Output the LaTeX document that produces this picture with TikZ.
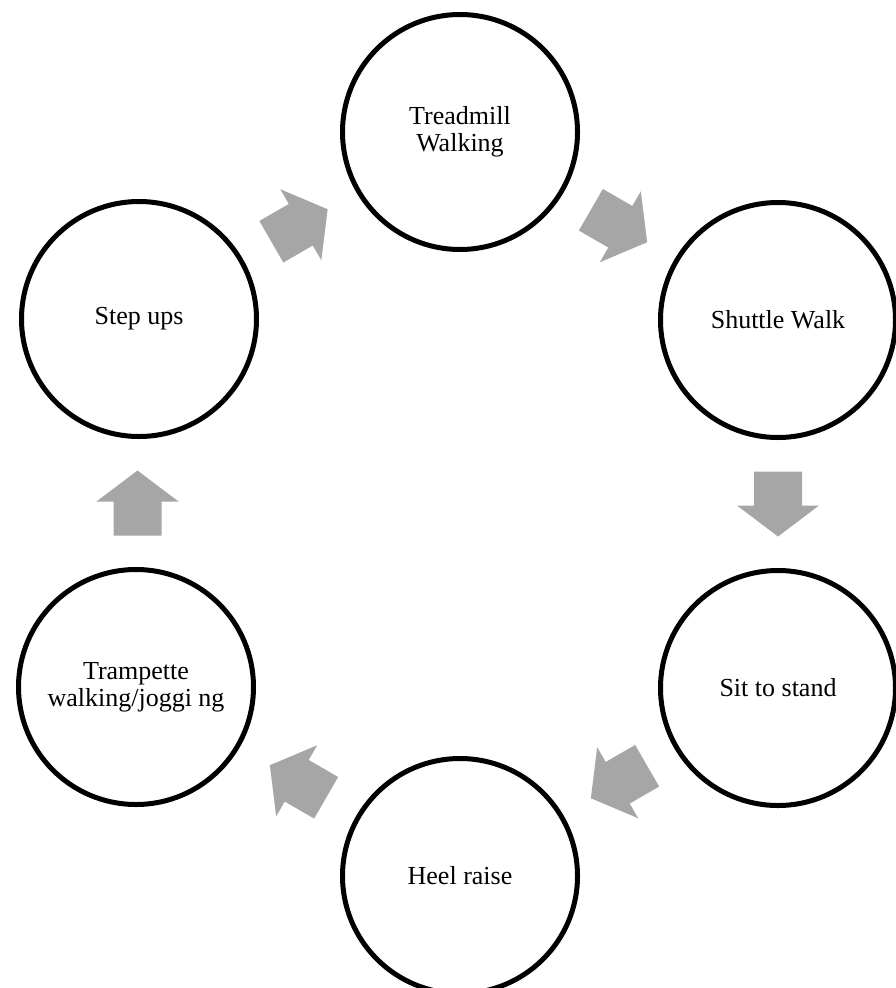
\documentclass[tikz,border=0pt]{standalone}
\usepackage{fontspec}
\setmainfont{Liberation Serif}
\usetikzlibrary{calc}
\definecolor{arrowgray}{RGB}{166,166,166}
\newcommand\flowarrow[3]{%
  \path ($(#1)!0.5!(#2)$) coordinate (m-#1-#2);
  \fill[arrowgray, shift={(m-#1-#2)}, rotate=#3]
    (-32.5,24) -- (1.5,24) -- (1.5,41) -- (32.5,0) -- (1.5,-41) -- (1.5,-24) -- (-32.5,-24) -- cycle;}
\begin{document}
\begin{tikzpicture}[x=1pt,y=-1pt,
  stage/.style={circle, draw=black, line width=5pt, fill=white, minimum size=235pt,
    inner sep=0pt, align=center, font=\fontsize{26}{27}\selectfont}]
\useasboundingbox (0,0) rectangle (896,988);
\clip (0,0) rectangle (896,988);
\fill[white] (0,0) rectangle (896,988);
\node[stage] (tread) at (460,132) {Treadmill\\Walking};
\node[stage] (shuttle) at (778,320) {Shuttle Walk};
\node[stage] (sit) at (778,688) {Sit to stand};
\node[stage] (heel) at (460,876) {Heel raise};
\node[stage] (tramp) at (136,687) {Trampette\\walking/joggi ng};
\node[stage] (stepups) at (139,319) {Step ups};
\flowarrow{stepups}{tread}{30}
\flowarrow{tread}{shuttle}{-30}
\flowarrow{shuttle}{sit}{-90}
\flowarrow{sit}{heel}{210}
\flowarrow{heel}{tramp}{150}
\flowarrow{tramp}{stepups}{90}
\end{tikzpicture}
\end{document}
